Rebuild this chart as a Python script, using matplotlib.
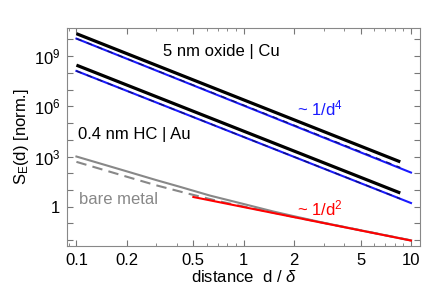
import numpy as np
import matplotlib
matplotlib.use("Agg")
from matplotlib import pyplot as plt
from matplotlib.ticker import FixedLocator, FixedFormatter, NullFormatter, LogLocator

plt.rcParams['font.family'] = ['Liberation Sans', 'DejaVu Sans']
plt.rcParams['mathtext.fontset'] = 'custom'
plt.rcParams['mathtext.rm'] = 'Liberation Sans'
plt.rcParams['mathtext.it'] = 'Liberation Sans:italic'

# 5 nm oxide | Cu
d_cu = [0.1, 8.63]
s_cu = [2.2e10, 4.8e2]
d_cu_fit = [0.1, 10.0]
s_cu_fit = [1.12e10, 1.1e2]
d_cu_num = [0.1, 8.63]
s_cu_num = [1.12e10, 2.2e2]

# 0.4 nm HC | Au
d_au = [0.1, 8.63]
s_au = [2.9e8, 6.6]
d_au_fit = [0.1, 10.0]
s_au_fit = [1.3e8, 1.66]
d_au_num = [0.1, 8.63]
s_au_num = [1.3e8, 3.0]

# bare metal
d_bare = [0.1, 0.2, 0.3, 0.42, 0.63, 1.0, 1.5, 2.0, 3.0, 5.0, 10.0]
s_bare = [1000, 130, 39, 15, 4.6, 1.45, 0.52, 0.27, 0.11, 0.039, 0.0097]
d_bare_num = [0.1, 0.2, 0.3, 0.45, 0.7, 1.0, 2.0, 5.0, 10.0]
s_bare_num = [480, 62, 19, 6.6, 2.2, 1.02, 0.245, 0.039, 0.0097]
d_d2 = [0.5, 10.0]
s_d2 = [3.8, 0.0095]

xticks = [0.1, 0.2, 0.5, 1, 2, 5, 10]
xlabels = ['0.1', '0.2', '0.5', '1', '2', '5', '10']
ydecades = [10.0**k for k in range(-2, 11)]
ylabels = {0: '1', 3: '$10^3$', 6: '$10^6$', 9: '$10^9$'}

fig = plt.figure(figsize=(4.36, 2.92), dpi=100)
ax = fig.add_axes([0.154, 0.158, 0.809, 0.746])

ax.plot(d_bare, s_bare, color='#888888', lw=1.5)
ax.plot(d_bare_num, s_bare_num, color='#888888', lw=1.5, dashes=(5, 3))
ax.plot(d_d2, s_d2, color='red', lw=1.5)

for d, s in [(d_cu, s_cu), (d_au, s_au)]:
    ax.plot(d, s, color='black', lw=2.3, solid_capstyle='butt')
for (d, s), (dn, sn) in [((d_cu_fit, s_cu_fit), (d_cu_num, s_cu_num)),
                         ((d_au_fit, s_au_fit), (d_au_num, s_au_num))]:
    ax.plot(d, s, color='#1a1aff', lw=1.5)
    ax.plot(dn, sn, color='#10107a', lw=1.0, dashes=(4, 4))

ax.set_xscale('log')
ax.set_yscale('log')
ax.set_xlim(0.088, 11.3)
ax.set_ylim(10**-2.34, 10**10.68)

ax.xaxis.set_major_locator(FixedLocator(xticks))
ax.xaxis.set_major_formatter(FixedFormatter(xlabels))
ax.xaxis.set_minor_locator(LogLocator(base=10, subs=np.arange(2, 10)))
ax.xaxis.set_minor_formatter(NullFormatter())
ax.yaxis.set_major_locator(FixedLocator(ydecades))
ax.yaxis.set_major_formatter(FixedFormatter(
    [ylabels.get(k, '') for k in range(-2, 11)]))
ax.yaxis.set_minor_locator(FixedLocator([]))

ax.tick_params(which='both', direction='in', top=True, right=True,
               color='#777777', labelsize=12, pad=5)
ax.tick_params(which='major', length=4)
ax.tick_params(which='minor', length=2)
for sp in ax.spines.values():
    sp.set_color('#888888')
    sp.set_linewidth(0.8)

ax.set_xlabel(r'distance  d / $\delta$', fontsize=12, labelpad=1)
ax.set_ylabel(r'S$_\mathrm{E}$(d) [norm.]', fontsize=12, labelpad=2)

ax.text(0.272, 0.89, '5 nm oxide | Cu', transform=ax.transAxes, fontsize=12,
        va='center')
ax.text(0.031, 0.509, '0.4 nm HC | Au', transform=ax.transAxes, fontsize=12,
        va='center')
ax.text(0.035, 0.211, 'bare metal', transform=ax.transAxes, fontsize=12,
        color='#888888', va='center')
ax.text(0.652, 0.633, r'~ 1/d$^4$', transform=ax.transAxes, fontsize=12,
        color='#1a1aff', va='center')
ax.text(0.652, 0.174, r'~ 1/d$^2$', transform=ax.transAxes, fontsize=12,
        color='red', va='center')

fig.savefig('out.png', dpi=100)
